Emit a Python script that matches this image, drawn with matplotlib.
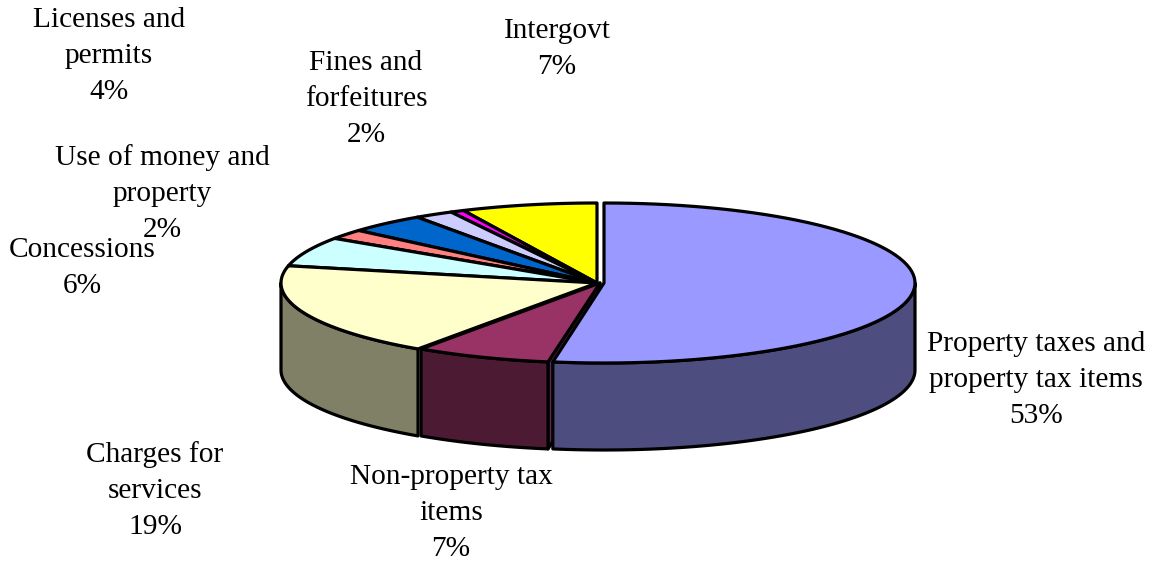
import numpy as np
import matplotlib
matplotlib.use("Agg")
import matplotlib.pyplot as plt
from matplotlib.patches import Polygon

# Revenue shares, in percent, clockwise from twelve o'clock
categories = ["Property taxes and\nproperty tax items", "Non-property tax\nitems", "Charges for\nservices",
              "Concessions", "Use of money and\nproperty", "Licenses and\npermits", "Fines and\nforfeitures",
              "Other", "Intergovt"]
shares = [53, 7, 19, 6, 2, 4, 2, 0.7, 7]
top_colors = ["#9999FF", "#993366", "#FFFFCC", "#CCFFFF", "#FF8080", "#0066CC", "#CCCCFF", "#FF00FF", "#FFFF00"]
wall_colors = ["#4D4D80", "#4D1A33", "#808066", "#668080", "#804040", "#003366", "#666680", "#800080", "#808000"]
labelled = [True, True, True, True, True, True, True, False, True]
label_xy = [(1036, 380), (451, 513), (155, 491), (82, 268), (162, 194), (109, 56), (366, 99), None, (557, 49)]

# Pie geometry in canvas pixels
CX, CY, RX, RY, DEPTH = 597, 283, 316, 80, 87
LEAD_CX, LEAD_RX = 604, 311      # the leading slice sits slightly apart
LW = 2.3

fig = plt.figure(figsize=(11.53, 5.63), dpi=100)
ax = fig.add_axes([0, 0, 1, 1])
ax.set_xlim(0, 1153)
ax.set_ylim(563, 0)
ax.axis("off")

edges = np.concatenate([[0], np.cumsum(shares)]) / np.sum(shares) * 2 * np.pi


def rim(cx, rx, a, b, dy=0, n=80):
    t = np.linspace(a, b, n)
    return np.column_stack([cx + rx * np.sin(t), CY + dy - RY * np.cos(t)])


# Paint from the back of the pie towards the viewer
for i in range(len(shares) - 1, -1, -1):
    a, b = edges[i], edges[i + 1]
    cx, rx = (LEAD_CX, LEAD_RX) if i == 0 else (CX, RX)
    off = 3 if i == 1 else 0

    # radial cut face exposed beside the leading slice
    if i == 1:
        p = rim(cx + off, rx, a, a, n=1)[0]
        ax.add_patch(Polygon([(cx + off, CY), p, (p[0], p[1] + DEPTH), (cx + off, CY + DEPTH)],
                             closed=True, fc="#5C2A50", ec="black", lw=LW, joinstyle="round"))

    # outer wall: only the part of the arc facing the viewer
    lo, hi = max(a, np.pi / 2), min(b, 3 * np.pi / 2)
    if lo < hi:
        upper = rim(cx + off, rx, lo, hi)
        lower = rim(cx + off, rx, lo, hi, dy=DEPTH)
        ax.add_patch(Polygon(np.vstack([upper, lower[::-1]]), closed=True, fc=wall_colors[i],
                             ec="black", lw=LW, joinstyle="round"))

    # top face
    top = np.vstack([[(cx + off, CY)], rim(cx + off, rx, a, b)])
    ax.add_patch(Polygon(top, closed=True, fc=top_colors[i], ec="black", lw=LW, joinstyle="round"))

for name, share, show, xy in zip(categories, shares, labelled, label_xy):
    if show:
        ax.text(xy[0], xy[1], f"{name}\n{round(share)}%", ha="center", va="center",
                family="Liberation Serif", fontsize=21.2, linespacing=1.50, color="black")

fig.savefig("out.png", dpi=100, facecolor="white")
